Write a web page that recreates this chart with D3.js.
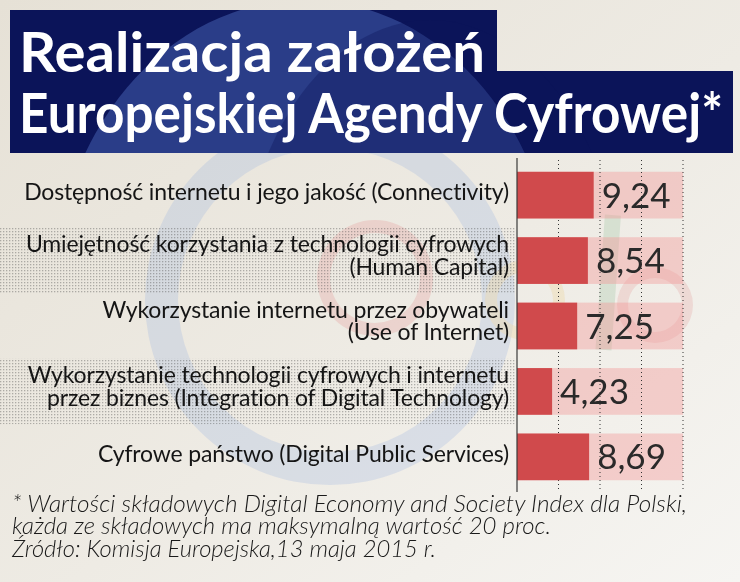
<!DOCTYPE html>
<html>
<head>
<meta charset="utf-8">
<script src="https://cdn.jsdelivr.net/npm/d3@7/dist/d3.min.js"></script>
<style>
  html, body { margin: 0; padding: 0; background: #ece8df; }
  svg { display: block; }
  text { font-family: Lato, "Open Sans", sans-serif; }
</style>
</head>
<body>
<svg id="chart" width="740" height="582"></svg>
<script>
// ---------- data ----------
const titleLines = ["Realizacja założeń", "Europejskiej Agendy Cyfrowej*"];
const categories = [
  ["Dostępność internetu i jego jakość (Connectivity)"],
  ["Umiejętność korzystania z technologii cyfrowych", "(Human Capital)"],
  ["Wykorzystanie internetu przez obywateli", "(Use of Internet)"],
  ["Wykorzystanie technologii cyfrowych i internetu", "przez biznes (Integration of Digital Technology)"],
  ["Cyfrowe państwo (Digital Public Services)"]
];
const values = [9.24, 8.54, 7.25, 4.23, 8.69];
const maxValue = 20;
const gridTicks = [5, 10, 15, 20];
const footnoteLines = [
  "* Wartości składowych Digital Economy and Society Index dla Polski,",
  "każda ze składowych ma maksymalną wartość 20 proc.",
  "Źródło: Komisja Europejska,13 maja 2015 r."
];

// ---------- setup ----------
const W = 740, H = 582;
const svg = d3.select("#chart");
const defs = svg.append("defs");

const bg = defs.append("linearGradient").attr("id", "bg").attr("x1", 0).attr("y1", 0).attr("x2", 1).attr("y2", 1);
bg.append("stop").attr("offset", "0%").attr("stop-color", "#e6e1d6");
bg.append("stop").attr("offset", "55%").attr("stop-color", "#eeebe4");
bg.append("stop").attr("offset", "100%").attr("stop-color", "#f6f5f2");

const dots = defs.append("pattern").attr("id", "dots").attr("width", 3).attr("height", 3).attr("patternUnits", "userSpaceOnUse");
dots.append("rect").attr("width", 1.3).attr("height", 1.3).attr("fill", "rgba(70,70,70,0.38)");

defs.append("clipPath").attr("id", "titleClip").call(c => {
  c.append("rect").attr("x", 10).attr("y", 10).attr("width", 487).attr("height", 62);
  c.append("rect").attr("x", 10).attr("y", 71).attr("width", 723).attr("height", 82);
});

svg.append("rect").attr("width", W).attr("height", H).attr("fill", "url(#bg)");

// faint background logo decoration
const deco = svg.append("g").attr("opacity", 0.5);
const ring = (cx, cy, ro, ri, color) => deco.append("path")
  .attr("d", d3.arc().innerRadius(ri).outerRadius(ro).startAngle(0).endAngle(2 * Math.PI)())
  .attr("transform", `translate(${cx},${cy})`).attr("fill", color);
ring(330, 300, 185, 152, "rgba(150,175,225,0.5)");
ring(375, 278, 58, 45, "rgba(230,140,140,0.5)");
ring(525, 300, 40, 28, "rgba(235,200,120,0.45)");
deco.append("rect").attr("x", 600).attr("y", 215).attr("width", 16).attr("height", 135).attr("fill", "rgba(140,190,150,0.5)").attr("transform", "rotate(4,608,285)");
ring(655, 305, 38, 27, "rgba(225,130,130,0.4)");

// ---------- scales ----------
const x = d3.scaleLinear().domain([0, maxValue]).range([517, 683]);
const y = d3.scaleBand().domain(d3.range(values.length)).range([160, 492]).paddingInner(0.286).paddingOuter(0.18);
const gap = y.step() * y.paddingInner();

// alternating dotted stripes behind labels
svg.append("g").selectAll("rect").data(values.map((v, i) => i).filter(i => i % 2 === 1)).join("rect")
  .attr("x", 0).attr("width", x(0) - 1)
  .attr("y", i => y(i) - gap / 2).attr("height", y.bandwidth() + gap)
  .attr("fill", "url(#dots)");

// pink full-scale backgrounds
svg.append("g").selectAll("rect").data(values).join("rect")
  .attr("x", x(0)).attr("width", x(maxValue) - x(0))
  .attr("y", (d, i) => y(i)).attr("height", y.bandwidth())
  .attr("fill", "rgba(242,150,150,0.40)");

// dotted grid lines
svg.append("g").selectAll("line").data(gridTicks).join("line")
  .attr("x1", d => x(d)).attr("x2", d => x(d))
  .attr("y1", 160).attr("y2", 492)
  .attr("stroke", "#333").attr("stroke-width", 1).attr("stroke-dasharray", "1,3");

// bars
svg.append("g").selectAll("rect").data(values).join("rect")
  .attr("x", x(0)).attr("width", d => x(d) - x(0))
  .attr("y", (d, i) => y(i)).attr("height", y.bandwidth())
  .attr("fill", "#d04a4c");

// axis line
svg.append("line").attr("x1", x(0)).attr("x2", x(0)).attr("y1", 158).attr("y2", 492)
  .attr("stroke", "#3a3a3a").attr("stroke-width", 1.2);

// value labels
const fmt = d3.formatLocale({ decimal: ",", thousands: " ", grouping: [3], currency: ["", ""] }).format(".2f");
svg.append("g").selectAll("text").data(values).join("text")
  .attr("x", d => x(d) + 8)
  .attr("y", (d, i) => y(i) + y.bandwidth() / 2 + 12.5)
  .attr("font-size", 35).attr("fill", "#2a2a2a")
  .text(d => fmt(d));

// category labels (one text per line)
const lh = 22.5;
const labelRows = [];
categories.forEach((lines, i) => {
  const cy = y(i) + y.bandwidth() / 2;
  const first = cy + 5 - (lines.length - 1) * (lh / 2 + 2);
  lines.forEach((ln, k) => labelRows.push({ text: ln, y: first + k * lh }));
});
svg.append("g").selectAll("text").data(labelRows).join("text")
  .attr("text-anchor", "end").attr("x", 509).attr("y", d => d.y)
  .attr("font-size", 23).attr("font-weight", 400).attr("letter-spacing", -0.15).attr("fill", "#151515")
  .text(d => d.text);

// ---------- title ----------
svg.append("rect").attr("x", 10).attr("y", 10).attr("width", 487).attr("height", 62).attr("fill", "#0b1459");
svg.append("rect").attr("x", 10).attr("y", 71).attr("width", 723).attr("height", 82).attr("fill", "#0b1459");
const tdeco = svg.append("g").attr("clip-path", "url(#titleClip)");
tdeco.append("ellipse").attr("cx", 305).attr("cy", 300).attr("rx", 252).attr("ry", 300).attr("fill", "rgba(70,95,175,0.55)");
tdeco.append("ellipse").attr("cx", 430).attr("cy", 300).attr("rx", 190).attr("ry", 280).attr("fill", "rgba(11,20,89,0.35)");

const titleLens = [466, 704];
const titleBase = [71.5, 132.5];
svg.append("g").selectAll("text").data(titleLines).join("text")
  .attr("transform", (d, i) => `translate(19,${titleBase[i]}) scale(1,1.2)`)
  .attr("font-size", 46).attr("font-weight", 700).attr("fill", "#ffffff")
  .attr("textLength", (d, i) => titleLens[i]).attr("lengthAdjust", "spacingAndGlyphs")
  .text(d => d);

// ---------- footnote ----------
const footLens = [675, 539, 424];
svg.append("g").selectAll("text").data(footnoteLines).join("text")
  .attr("x", 12).attr("y", (d, i) => 511.5 + i * 22.7)
  .attr("font-size", 23).attr("font-style", "italic").attr("font-weight", 300).attr("fill", "#1a1a1a")
  .attr("textLength", (d, i) => footLens[i]).attr("lengthAdjust", "spacingAndGlyphs")
  .text(d => d);
</script>
</body>
</html>
